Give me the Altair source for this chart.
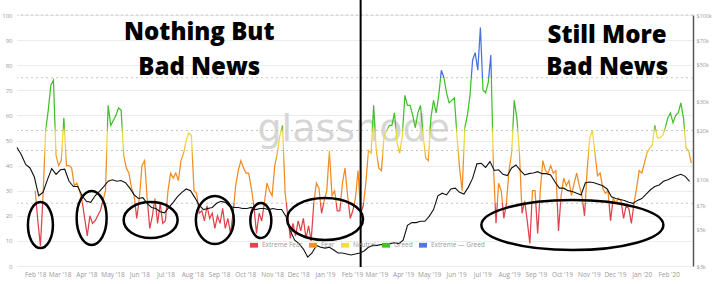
import altair as alt
import pandas as pd

# ---------------- data ----------------
# Fear & Greed index, one reading every 3 days from 2018-02-01
FG_START = "2018-02-01"
fg_values = [
    30, 18, 8, 28, 54, 62, 72, 74, 44, 40,
    42, 59, 40, 40, 39, 32, 33, 30, 26, 19,
    12, 20, 17, 18, 20, 22, 26, 30, 64, 56,
    58, 60, 63, 62, 44, 39, 37, 31, 28, 19,
    27, 40, 42, 27, 15, 20, 27, 17, 25, 17,
    18, 30, 37, 35, 37, 34, 42, 45, 50, 53,
    52, 30, 29, 21, 22, 18, 24, 19, 21, 15,
    20, 17, 23, 15, 19, 13, 21, 32, 38, 42,
    39, 37, 37, 31, 24, 13, 21, 18, 25, 33,
    30, 28, 40, 45, 52, 56, 29, 20, 11, 17,
    12, 18, 14, 19, 11, 16, 10, 25, 33, 31,
    21, 26, 30, 46, 28, 30, 22, 22, 33, 39,
    28, 19, 22, 27, 38, 21, 24, 33, 46, 45,
    64, 46, 39, 38, 52, 54, 56, 56, 61, 49,
    45, 52, 68, 64, 64, 60, 55, 61, 64, 52,
    43, 42, 59, 66, 61, 68, 78, 75, 69, 65,
    66, 67, 52, 39, 30, 55, 60, 68, 82, 85,
    78, 95, 70, 69, 73, 84, 40, 17, 33, 30,
    19, 25, 38, 45, 66, 59, 45, 21, 26, 18,
    9, 30, 30, 13, 30, 42, 38, 37, 40, 37,
    38, 14, 28, 35, 32, 34, 28, 33, 37, 32,
    28, 20, 38, 51, 54, 45, 36, 37, 31, 29,
    30, 18, 27, 25, 27, 26, 19, 24, 23, 17,
    25, 31, 38, 37, 41, 45, 47, 48, 56, 51,
    51, 52, 55, 59, 61, 57, 60, 61, 65, 59,
    47, 46, 41,
]

# BTC price in $k, one reading every 5 days from 2018-01-11
PRICE_START = "2018-01-11"
price_k = [
    15.7, 14.2, 12.4, 11.8, 10.4, 8.0, 8.4, 10.0, 11.7, 10.8,
    11.5, 11.6, 9.8, 9.1, 9.1, 8.0, 7.4, 7.3, 8.0, 8.5,
    9.1, 9.8, 10.0, 9.8, 9.9, 9.6, 8.9, 8.1, 7.7, 7.8,
    7.2, 6.8, 6.7, 6.4, 6.3, 6.8, 7.3, 7.9, 8.4, 8.8,
    8.6, 7.8, 7.0, 6.6, 6.7, 6.8, 7.2, 7.4, 7.3, 6.9,
    6.8, 6.8, 6.7, 6.7, 6.8, 6.6, 6.7, 6.7, 6.6, 6.7,
    6.6, 6.6, 6.0, 4.9, 4.3, 4.1, 3.8, 3.4, 3.6, 4.0,
    3.9, 3.85, 3.9, 3.75, 3.6, 3.6, 3.55, 3.5, 3.55, 3.6,
    3.7, 3.9, 4.0, 4.0, 4.05, 4.0, 4.1, 4.15, 4.1, 4.3,
    5.3, 5.5, 5.5, 5.6, 5.6, 6.0, 6.6, 8.0, 8.3, 8.1,
    8.8, 8.9, 8.4, 8.2, 9.0, 10.2, 12.5, 12.6, 11.9, 12.9,
    11.4, 11.5, 10.8, 10.6, 11.8, 12.3, 11.4, 10.7, 10.9, 11.0,
    11.2, 10.9, 10.9, 10.7, 9.7, 8.9, 8.9, 8.6, 8.5, 8.3,
    8.1, 9.6, 9.7, 9.6, 9.4, 9.2, 8.8, 7.9, 7.7, 7.6,
    7.5, 7.3, 7.2, 7.5, 7.7, 8.2, 8.7, 9.1, 9.3, 9.8,
    10.0, 10.3, 10.6, 10.8, 10.5, 9.8,
]

tick_months = [
    "2018-02-01", "2018-03-01", "2018-04-01", "2018-05-01", "2018-06-01",
    "2018-07-01", "2018-08-01", "2018-09-01", "2018-10-01", "2018-11-01",
    "2018-12-01", "2019-01-01", "2019-02-01", "2019-03-01", "2019-04-01",
    "2019-05-01", "2019-06-01", "2019-07-01", "2019-08-01", "2019-09-01",
    "2019-10-01", "2019-11-01", "2019-12-01", "2020-01-01", "2020-02-01",
]
fg_ticks = [0, 10, 20, 30, 40, 50, 60, 70, 80, 90, 100]
threshold_levels = [25, 46, 54, 75, 100]
price_ticks = [3000, 5000, 7000, 10000, 20000, 30000, 50000, 70000, 100000]

legend_labels = ["Extreme Fear", "Fear", "Neutral", "Greed", "Extreme — Greed"]
legend_colors = ["#e2464c", "#f2912a", "#f4dc45", "#43c22c", "#5276e0"]

# annotation ellipses: centre date, centre index value, width px, height px
ell_dates = ["2018-02-07", "2018-04-07", "2018-06-14", "2018-08-27",
             "2018-10-19", "2019-01-01", "2019-10-13"]
ell_vals = [16.3, 19.1, 18.3, 18.3, 18.1, 18.7, 16.3]
ell_w = [25, 30, 54, 38, 21, 76, 182]
ell_h = [46, 54, 36, 48, 35, 42, 50]

title_dates = ["2018-08-09", "2018-08-09", "2019-11-22", "2019-11-22"]
title_vals = [90.0, 76.1, 88.8, 76.1]
title_texts = ["Nothing But", "Bad News", "Still More", "Bad News"]

divider_date = "2019-02-11"

# ---------------- frames ----------------
fg = pd.DataFrame({
    "date": pd.date_range(FG_START, periods=len(fg_values), freq="3D").strftime("%Y-%m-%d"),
    "fg": fg_values,
})
price = pd.DataFrame({
    "date": pd.date_range(PRICE_START, periods=len(price_k), freq="5D").strftime("%Y-%m-%d"),
    "price": [p * 1000 for p in price_k],
})


def ellipse_path(w, h):
    r = h / w
    k = 0.5523
    return (f"M1,0C1,{k*r:.4f} {k:.4f},{r:.4f} 0,{r:.4f}"
            f"C{-k:.4f},{r:.4f} -1,{k*r:.4f} -1,0"
            f"C-1,{-k*r:.4f} {-k:.4f},{-r:.4f} 0,{-r:.4f}"
            f"C{k:.4f},{-r:.4f} 1,{-k*r:.4f} 1,0Z")


ell = pd.DataFrame({
    "date": ell_dates, "val": ell_vals,
    "path": [ellipse_path(w, h) for w, h in zip(ell_w, ell_h)],
    "sz": [w * w for w in ell_w],
})
titles = pd.DataFrame({"date": title_dates, "val": title_vals, "txt": title_texts})
thr = pd.DataFrame({"val": threshold_levels})
divider = pd.DataFrame({"date": [divider_date], "top": [106], "bot": [-0.4]})
wm = pd.DataFrame({"date": ["2019-02-03"], "val": [49.8], "txt": ["glassnode"]})
leg = pd.DataFrame({"date": ["2019-01-01"] * 5, "val": [-50] * 5, "cat": legend_labels})

# ---------------- scales & axes ----------------
def dt(s):
    y, m, d = (int(v) for v in s.split("-"))
    return alt.DateTime(year=y, month=m, date=d, utc=True)


XSCALE = alt.Scale(type="utc", domain=[dt("2018-01-11"), dt("2020-02-29")], nice=False)
YSCALE = alt.Scale(domain=[0, 100], nice=False, zero=False)

X_AXIS = alt.Axis(values=[dt(s) for s in tick_months], format="%b '%y", grid=False,
                  domain=False, ticks=False, labelFontSize=6.5, labelColor="#9a9a9a",
                  labelPadding=5, labelOverlap=False, title=None, labelFont="Open Sans")
Y_AXIS = alt.Axis(values=fg_ticks, grid=True, gridColor="#ececec", domain=False, ticks=False,
                  labelFontSize=6, labelColor="#9a9a9a", labelPadding=5, orient="left",
                  labelFont="Open Sans", title=None)


def X(field="date"):
    return alt.X(f"{field}:T", scale=XSCALE, axis=X_AXIS, title=None)


def Y(field):
    return alt.Y(f"{field}:Q", scale=YSCALE, axis=Y_AXIS, title=None)


vmin, vmax = min(fg_values), max(fg_values)


def off(v):
    return max(0.0, min(1.0, (v - vmin) / (vmax - vmin)))


RED, ORANGE, YELLOW, GREEN, BLUE = "#e0434b", "#f08a24", "#f3d83c", "#41bf2b", "#4a6fde"
grad = alt.Gradient(
    gradient="linear", x1=0, x2=0, y1=1, y2=0,
    stops=[
        alt.GradientStop(offset=0, color=RED),
        alt.GradientStop(offset=off(25), color=RED),
        alt.GradientStop(offset=off(25), color=ORANGE),
        alt.GradientStop(offset=off(41), color=ORANGE),
        alt.GradientStop(offset=off(49), color=YELLOW),
        alt.GradientStop(offset=off(53), color=YELLOW),
        alt.GradientStop(offset=off(56), color=GREEN),
        alt.GradientStop(offset=off(75), color=GREEN),
        alt.GradientStop(offset=off(75), color=BLUE),
        alt.GradientStop(offset=1, color=BLUE),
    ],
)

# ---------------- layers ----------------
watermark = alt.Chart(wm).mark_text(font="DejaVu Sans", fontSize=38, color="#d6d6d6",
                                    align="center", baseline="alphabetic").encode(
    x=X(), y=Y("val"), text="txt:N")

thresholds = alt.Chart(thr).mark_rule(color="#c4c4c4", strokeWidth=1, strokeDash=[2, 3]).encode(
    y=Y("val"))

fg_line = alt.Chart(fg).mark_line(stroke=grad, strokeWidth=1.25).encode(x=X(), y=Y("fg"))

ellipses = alt.Chart(ell).mark_point(filled=False, color="black", strokeWidth=2.5, opacity=1).encode(
    x=X(), y=Y("val"),
    shape=alt.Shape("path:N", scale=None, legend=None),
    size=alt.Size("sz:Q", scale=None, legend=None))

title_txt = alt.Chart(titles).mark_text(font="Open Sans", fontSize=24, fontWeight=800,
                                        color="black", align="center", baseline="alphabetic").encode(
    x=X(), y=Y("val"), text="txt:N")

div_rule = alt.Chart(divider).mark_rule(color="black", strokeWidth=2).encode(
    x=X(), y=Y("top"), y2="bot:Q")

RECT = "M-1,-0.6H1V0.6H-1Z"
legend_dummy = alt.Chart(leg).mark_square(clip=True, opacity=1, size=20).encode(
    x=X(), y=Y("val"),
    color=alt.Color("cat:N", scale=alt.Scale(domain=legend_labels, range=legend_colors),
                    legend=alt.Legend(orient="none", legendX=233, legendY=226, direction="horizontal",
                                      title=None, symbolType=RECT, symbolSize=64, symbolStrokeWidth=0,
                                      labelFontSize=6.5, labelColor="#9a9a9a", labelFont="Open Sans",
                                      columnPadding=6, labelOffset=4, padding=0)))

fg_layer = alt.layer(watermark, thresholds, fg_line, ellipses, title_txt, div_rule, legend_dummy)

price_line = alt.Chart(price).mark_line(color="#111111", strokeWidth=1.1).encode(
    x=X(),
    y=alt.Y("price:Q", title=None,
            scale=alt.Scale(type="log", domain=[3000, 100000], nice=False),
            axis=alt.Axis(orient="right", values=price_ticks,
                          labelExpr="'$' + (datum.value / 1000) + 'k'",
                          grid=False, ticks=False, domain=True, domainColor="#555555",
                          domainWidth=1.5, labelFontSize=5.5, labelColor="#9a9a9a",
                          labelPadding=3, labelFont="Open Sans", title=None)))

chart = alt.layer(fg_layer, price_line).resolve_scale(y="independent").properties(
    width=676, height=251,
    autosize=alt.AutoSizeParams(type="none"),
    padding={"left": 17, "top": 15, "right": 20, "bottom": 18},
).configure_view(strokeWidth=0)

chart.save("out.html", embed_options={"renderer": "svg", "actions": False})
